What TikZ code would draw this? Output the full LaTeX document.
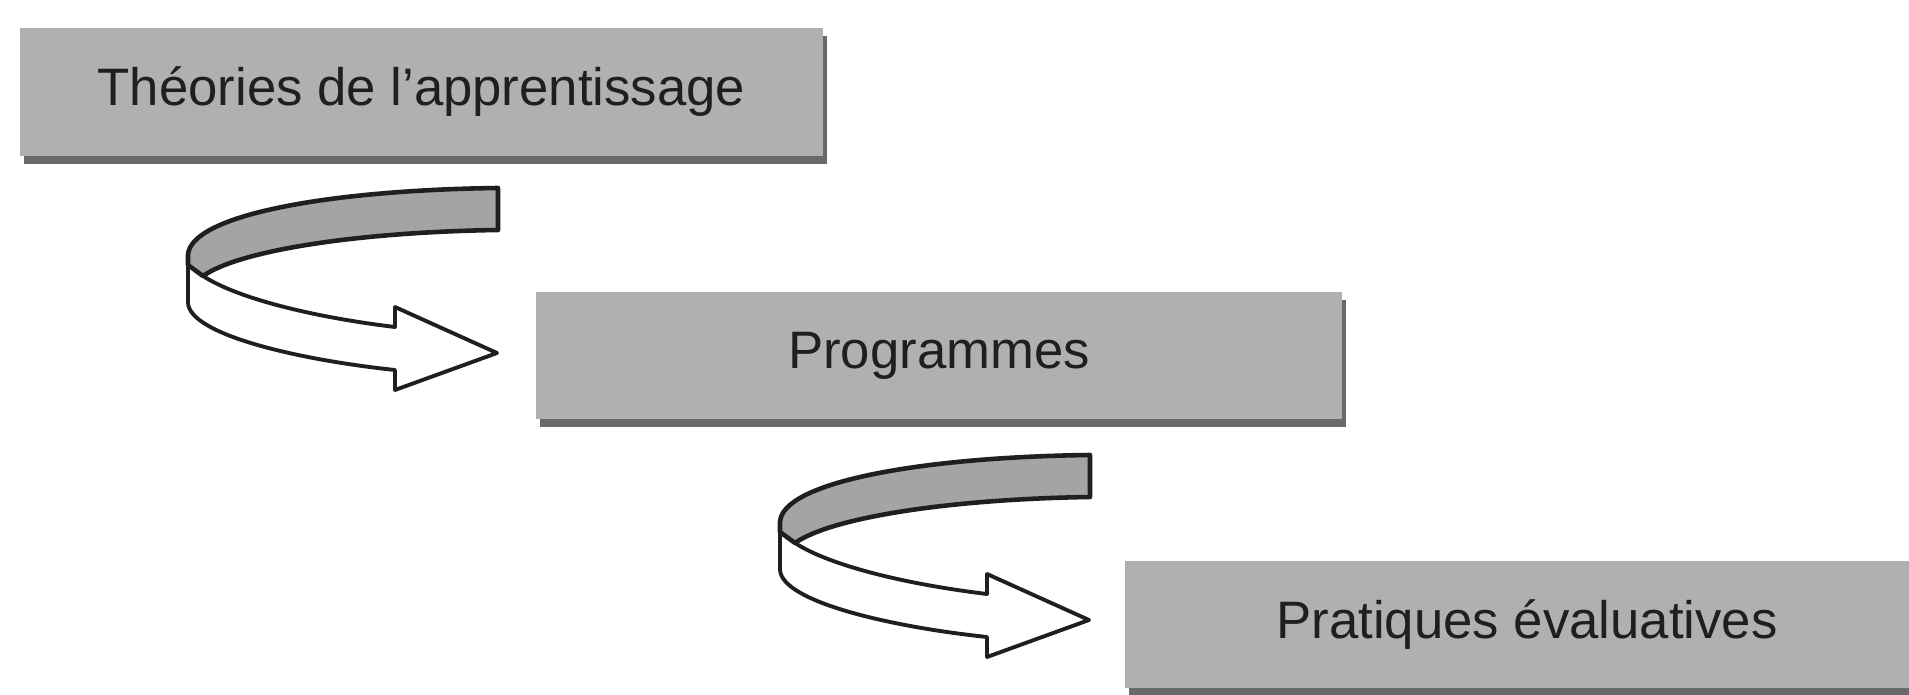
\documentclass[tikz,border=0pt]{standalone}
\usepackage{fontspec}
\setmainfont{Liberation Sans}
\usetikzlibrary{shadows}
\definecolor{boxgray}{HTML}{B0B0B0}
\definecolor{shadowgray}{HTML}{6A6A6A}
\definecolor{ribbongray}{HTML}{A4A4A4}
\begin{document}
\begin{tikzpicture}[x=0.02cm,y=-0.02cm,
  stagebox/.style={rectangle, fill=boxgray, draw=none, inner sep=0pt,
    minimum height=2.56cm,
    font=\fontsize{30}{36}\selectfont, text=black!88,
    drop shadow={shadow xshift=0.08cm, shadow yshift=-0.16cm, fill=shadowgray, opacity=1}},
  ribbonline/.style={draw=black!88, line width=2.2pt, line join=round},
  ribbon/.pic={
    % white lower band with arrow head
    \path[ribbonline, fill=white]
      (203,276) .. controls (240,300) and (320,318) .. (395,327)
      -- (395,307) -- (497,353) -- (395,390) -- (395,370)
      .. controls (300,360) and (190,335) .. (188,303)
      -- (188,255) -- cycle;
    % grey upper band
    \path[ribbonline, fill=ribbongray, line width=2.6pt]
      (498,188) .. controls (330,190) and (190,215) .. (188,255)
      -- (188,265) -- (203,276)
      .. controls (240,250) and (360,232) .. (498,230) -- cycle;
  }]
\useasboundingbox (0,0) rectangle (1909,695);
\fill[white] (0,0) rectangle (1909,695);

\node[stagebox, minimum width=16.06cm] (theories) at (421.5,92) {Théories de l’apprentissage};
\node[stagebox, minimum width=16.12cm] (programmes) at (939,355.5) {Programmes};
\node[stagebox, minimum width=16.08cm] (pratiques) at (1527,624.5) {Pratiques évaluatives};

\pic (ribbonA) at (0,0) {ribbon};
\pic (ribbonB) at (592,267) {ribbon};
\end{tikzpicture}
\end{document}
